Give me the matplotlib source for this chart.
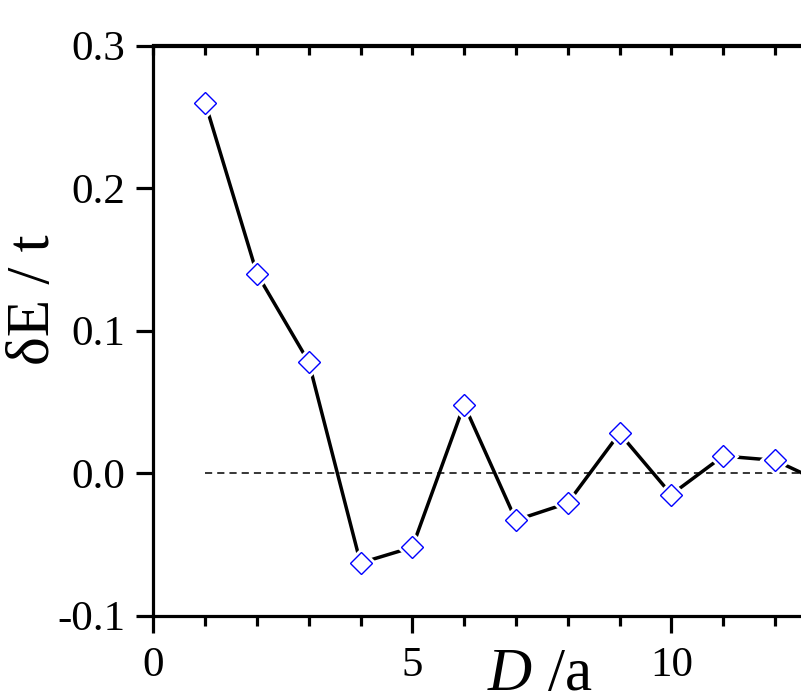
import matplotlib
matplotlib.use("Agg")
import matplotlib.pyplot as plt
from matplotlib.ticker import MultipleLocator

plt.rcParams['font.family'] = ['Liberation Serif', 'DejaVu Serif']
plt.rcParams['mathtext.fontset'] = 'custom'
plt.rcParams['mathtext.rm'] = 'Liberation Serif'
plt.rcParams['mathtext.it'] = 'Liberation Serif:italic'
plt.rcParams['axes.unicode_minus'] = False

# data
D = [1, 2, 3, 4, 5, 6, 7, 8, 9, 10, 11, 12, 13]
dE = [0.260, 0.140, 0.078, -0.063, -0.052, 0.048, -0.033, -0.021,
      0.028, -0.015, 0.012, 0.009, -0.008]

fig = plt.figure(figsize=(8.01, 6.98), dpi=100)
# axes runs past the right edge, the original picture is cropped there
ax = fig.add_axes([153.3 / 801, 82.3 / 698, 725.2 / 801, 570.2 / 698])

ax.hlines(0, D[0], D[-1], colors='black', linestyles=(0, (4.7, 3.3)), linewidth=1.1, zorder=1)
ax.plot(D, dE, color='black', linewidth=2.5, zorder=2)
# white halo so the line stops short of each marker
ax.plot(D, dE, linestyle='none', marker='D', markersize=11.5,
        markerfacecolor='white', markeredgecolor='white', markeredgewidth=5, zorder=3)
ax.plot(D, dE, linestyle='none', marker='D', markersize=11.5,
        markerfacecolor='white', markeredgecolor='#0000ff', markeredgewidth=1.0, zorder=4)

ax.set_xlim(0, 14)
ax.set_ylim(-0.1, 0.3)
ax.xaxis.set_major_locator(MultipleLocator(5))
ax.xaxis.set_minor_locator(MultipleLocator(1))
ax.yaxis.set_major_locator(MultipleLocator(0.1))
ax.yaxis.set_major_formatter(plt.FormatStrFormatter('%.1f'))

for s in ax.spines.values():
    s.set_linewidth(2.3)
ax.tick_params(axis='both', which='major', direction='out', length=12, width=2.3,
               labelsize=31, pad=8)
ax.tick_params(axis='x', which='minor', direction='out', length=7, width=2.3)
ax.tick_params(axis='x', which='major', pad=10)

top = ax.secondary_xaxis('top')
top.xaxis.set_major_locator(MultipleLocator(5))
top.xaxis.set_minor_locator(MultipleLocator(1))
top.tick_params(which='both', direction='in', length=7, width=2.3, labeltop=False)
top.spines['top'].set_linewidth(2.3)

fig.text(34 / 801, 1 - 300 / 698, 'δE / t', rotation=90, fontsize=44,
         ha='center', va='center')
fig.text(540 / 801, 1 - 690 / 698, r'$\mathit{D}$ /a', fontsize=44,
         ha='center', va='baseline')

fig.savefig('out.png', dpi=100)
